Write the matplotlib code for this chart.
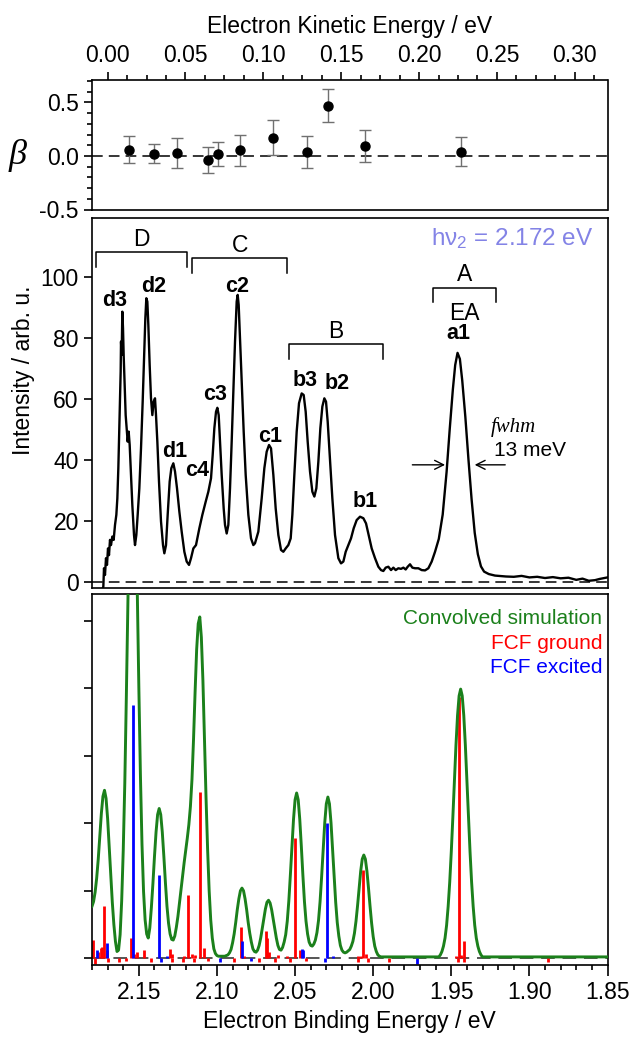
import numpy as np
import matplotlib
matplotlib.use('Agg')
import matplotlib.pyplot as plt
from matplotlib.ticker import MultipleLocator, NullFormatter

plt.rcParams['font.family'] = ['Liberation Sans', 'DejaVu Sans']
plt.rcParams['mathtext.fontset'] = 'custom'
plt.rcParams['mathtext.rm'] = 'Liberation Sans'

# ---- anisotropy parameter beta vs eKE ----
beta_eke = [0.0135, 0.0298, 0.0446, 0.0648, 0.0712, 0.0850, 0.1060, 0.1280, 0.1417, 0.1650, 0.2270]
beta_val = [0.06, 0.02, 0.03, -0.04, 0.02, 0.055, 0.17, 0.04, 0.47, 0.09, 0.04]
beta_err = [0.13, 0.09, 0.14, 0.12, 0.11, 0.145, 0.165, 0.15, 0.155, 0.15, 0.135]

# ---- measured photoelectron spectrum (eBE / eV, intensity) ----
spec_ebe = [2.1730, 2.17274, 2.17232, 2.17168, 2.17104, 2.17040, 2.16976, 2.16912, 2.16848, 2.16784,
            2.16698, 2.16613, 2.16527, 2.16442, 2.16378, 2.16314, 2.16250, 2.16207, 2.16165, 2.16143,
            2.16101, 2.16058, 2.16015, 2.15973, 2.15930, 2.15887, 2.15845, 2.15781, 2.15717, 2.15653,
            2.15588, 2.15524, 2.15418, 2.15311, 2.15247, 2.15162, 2.15076, 2.14970, 2.14863, 2.14756,
            2.14671, 2.14586, 2.14522, 2.14458, 2.14394, 2.14308, 2.14223, 2.14137, 2.14052, 2.13967,
            2.13903, 2.13817, 2.13711, 2.13582, 2.13454, 2.13369, 2.13262, 2.13156, 2.13028, 2.12921,
            2.12793, 2.12686, 2.12558, 2.12409, 2.12259, 2.12088, 2.11939, 2.11790, 2.11662, 2.11512,
            2.11342, 2.11128, 2.10936, 2.10723, 2.10552, 2.10381, 2.10275, 2.10168, 2.10061, 2.09976,
            2.09890, 2.09805, 2.09698, 2.09570, 2.09485, 2.09378, 2.09272, 2.09165, 2.09058, 2.08952,
            2.08845, 2.08738, 2.08674, 2.08610, 2.08525, 2.08418, 2.08290, 2.08162, 2.07991, 2.07821,
            2.07671, 2.07565, 2.07351, 2.07138, 2.06967, 2.06818, 2.06668, 2.06540, 2.06391, 2.06241,
            2.06071, 2.05900, 2.05751, 2.05601, 2.05431, 2.05281, 2.05175, 2.05047, 2.04897, 2.04748,
            2.04577, 2.04449, 2.04321, 2.04193, 2.04044, 2.03894, 2.03766, 2.03638, 2.03510, 2.03382,
            2.03254, 2.03126, 2.03019, 2.02913, 2.02785, 2.02614, 2.02443, 2.02230, 2.02059, 2.01909,
            2.01760, 2.01590, 2.01419, 2.01248, 2.01056, 2.00843, 2.00629, 2.00458, 2.00266, 2.00096,
            1.99882, 1.99669, 1.99498, 1.99349, 1.99199, 1.99029, 1.98858, 1.98709, 1.98559, 1.98388,
            1.98218, 1.98068, 1.97919, 1.97791, 1.97641, 1.97492, 1.97321, 1.97108, 1.96894, 1.96681,
            1.96467, 1.96254, 1.96041, 1.9580, 1.9555, 1.9530, 1.9510, 1.9490, 1.9475, 1.9460,
            1.9445, 1.9430, 1.9410, 1.9390, 1.9370, 1.9350, 1.9330, 1.9310, 1.9290, 1.9260,
            1.9220, 1.9150, 1.9100, 1.9050, 1.9000, 1.8950, 1.8900, 1.8850, 1.8800, 1.8750,
            1.8700, 1.8660, 1.8620, 1.8580, 1.8550, 1.8520, 1.8500]
spec_int = [-2.0, -1.6, 4.4, 2.2, 7.7, 5.5, 10.9, 8.7, 13.7, 12.0,
            14.8, 13.7, 18.6, 21.9, 27.3, 37.2, 50.3, 59.0, 68.9, 78.7,
            74.3, 88.5, 83.1, 74.3, 67.8, 61.2, 54.6, 50.3, 45.9, 49.2,
            44.8, 37.2, 25.1, 15.3, 12.0, 15.3, 21.9, 30.6, 43.7, 59.0,
            73.2, 86.3, 92.9, 91.8, 84.2, 71.0, 60.1, 54.6, 59.0, 60.1,
            54.6, 45.9, 32.8, 19.7, 12.0, 9.3, 12.0, 21.9, 32.8, 37.2,
            38.8, 36.1, 30.6, 23.0, 16.4, 9.8, 6.6, 5.5, 7.7, 10.9,
            12.0, 17.5, 21.9, 26.2, 29.5, 33.9, 41.5, 50.3, 55.7, 57.0,
            54.6, 45.9, 35.0, 24.0, 18.6, 15.8, 18.6, 30.6, 45.9, 62.3,
            78.7, 91.8, 94.0, 90.7, 79.8, 65.6, 49.2, 35.0, 21.9, 14.2,
            12.0, 12.6, 16.4, 27.3, 37.2, 42.6, 44.8, 43.7, 35.0, 24.0,
            15.3, 10.4, 9.8, 10.9, 12.0, 14.2, 21.9, 35.0, 49.2, 58.5,
            61.7, 61.2, 55.7, 45.9, 36.1, 29.5, 27.9, 30.6, 39.3, 50.3,
            57.4, 60.1, 59.0, 52.5, 41.5, 27.3, 15.3, 7.7, 6.0, 6.6,
            9.8, 12.0, 14.2, 17.5, 20.2, 21.3, 20.8, 19.1, 14.8, 10.9,
            7.7, 4.9, 3.8, 3.5, 4.6, 4.9, 3.8, 4.6, 3.8, 4.4,
            4.2, 4.6, 4.0, 4.9, 5.7, 4.6, 4.4, 4.4, 3.8, 3.7,
            4.4, 6.6, 9.8, 14.0, 22.0, 36.0, 50.0, 63.0, 71.0, 75.0,
            73.0, 66.0, 54.0, 40.0, 27.0, 16.0, 9.0, 5.0, 3.3, 2.5,
            2.0, 1.7, 1.6, 1.9, 1.4, 1.6, 1.2, 1.5, 1.1, 1.3,
            0.6, 1.0, 0.3, 0.5, 0.9, 1.2, 1.4]

# ---- convolved simulation, sampled every 1 meV in the busy parts ----
sim_ebe = np.concatenate([np.round(2.180 - 0.001 * np.arange(191), 3),
                          [1.985, 1.975, 1.965, 1.959],
                          np.round(1.958 - 0.001 * np.arange(29), 3),
                          [1.925, 1.900, 1.875, 1.850]])
sim_val = [0.77, 0.84, 0.98, 1.19, 1.47, 1.81, 2.15, 2.40, 2.49, 2.37,
           2.07, 1.66, 1.23, 0.83, 0.50, 0.25, 0.10, 0.12, 0.35, 0.85,
           1.60, 2.60, 3.90, 5.30, 6.70, 7.60, 8.00, 7.66, 6.73, 5.42,
           4.00, 2.71, 1.69, 0.99, 0.57, 0.36, 0.30, 0.45, 0.75, 1.11,
           1.51, 1.87, 2.13, 2.22, 2.13, 1.87, 1.51, 1.12, 0.77, 0.52,
           0.36, 0.28, 0.27, 0.33, 0.46, 0.62, 0.82, 1.02, 1.22, 1.42,
           1.60, 1.78, 1.98, 2.25, 2.65, 3.25, 3.95, 4.58, 4.96, 5.06,
           4.76, 4.12, 3.25, 2.38, 1.62, 1.00, 0.57, 0.30, 0.14, 0.07,
           0.04, 0.03, 0.03, 0.03, 0.03, 0.03, 0.04, 0.05, 0.08, 0.13,
           0.23, 0.36, 0.53, 0.72, 0.88, 1.00, 1.04, 1.00, 0.88, 0.72,
           0.53, 0.37, 0.24, 0.14, 0.10, 0.09, 0.12, 0.19, 0.30, 0.44,
           0.59, 0.73, 0.83, 0.86, 0.82, 0.72, 0.58, 0.44, 0.30, 0.19,
           0.13, 0.12, 0.16, 0.24, 0.35, 0.55, 0.85, 1.24, 1.66, 2.06,
           2.35, 2.45, 2.35, 2.06, 1.66, 1.23, 0.84, 0.55, 0.36, 0.24,
           0.19, 0.18, 0.21, 0.27, 0.38, 0.56, 0.84, 1.21, 1.62, 2.01,
           2.29, 2.39, 2.29, 2.01, 1.62, 1.21, 0.83, 0.53, 0.33, 0.19,
           0.12, 0.09, 0.08, 0.09, 0.11, 0.13, 0.18, 0.25, 0.37, 0.55,
           0.78, 1.04, 1.29, 1.47, 1.53, 1.47, 1.29, 1.04, 0.77, 0.52,
           0.32, 0.18, 0.10, 0.05, 0.03, 0.02, 0.02, 0.02, 0.02, 0.02,
           0.02,
           0.02, 0.02, 0.02, 0.02,
           0.02, 0.05, 0.10, 0.18, 0.30, 0.49, 0.77, 1.13, 1.58, 2.09,
           2.64, 3.16, 3.60, 3.89, 3.99, 3.89, 3.60, 3.16, 2.64, 2.09,
           1.58, 1.13, 0.77, 0.49, 0.30, 0.18, 0.10, 0.05, 0.02,
           0.02, 0.02, 0.02, 0.02]

# ---- Franck-Condon sticks ----
fcf_gnd_ebe = [2.1796, 2.1760, 2.1740, 2.1733, 2.1723, 2.1705, 2.1552, 2.1530, 2.1513, 2.1465,
               2.1300, 2.1285, 2.1210, 2.1183, 2.1157, 2.1140, 2.1109, 2.1085, 2.0846, 2.0825,
               2.0688, 2.0678, 2.0667, 2.0607, 2.0554, 2.0500, 2.0468, 2.0095, 2.0078, 2.0063,
               2.0046, 1.9472, 1.9448, 1.9438, 1.9418,
               2.1780, 2.1700, 2.1630, 2.1580, 2.1420, 2.1290, 2.1220, 2.1150, 2.1060, 2.0890,
               2.0730, 2.0630, 2.0530, 2.0430, 2.0100, 2.0030, 1.9900, 1.9460, 1.9420, 1.8880]
fcf_gnd_val = [0.27, 0.10, 0.15, 0.17, 0.77, 0.12, 0.30, 0.07, 0.10, 0.12,
               0.13, 0.06, 0.03, 0.94, 0.07, 0.05, 2.46, 0.15, 0.46, 0.04,
               0.40, 0.30, 0.10, 0.05, 0.03, 1.78, 0.12, 0.03, 0.04, 1.31,
               0.07, 0.03, 3.88, 0.05, 0.25,
               -0.08, -0.06, -0.05, -0.04, -0.05, -0.05, -0.06, -0.06, -0.04, -0.05,
               -0.06, -0.05, -0.06, -0.04, -0.05, -0.05, -0.05, -0.06, -0.06, -0.05]
fcf_exc_ebe = [2.1770, 2.1706, 2.1539, 2.1371, 2.1320, 2.0842, 2.0458, 2.0447, 2.0298, 2.0255,
               2.1360, 2.0980, 2.0780, 2.0310, 1.9720]
fcf_exc_val = [0.12, 0.22, 3.75, 1.23, 0.03, 0.25, 0.13, 0.12, 2.00, 0.03,
               -0.05, -0.06, -0.04, -0.05, -0.08]

# ---- labels on the measured spectrum ----
peak_names = ['d3', 'd2', 'd1', 'c4', 'c3', 'c2', 'c1', 'b3', 'b2', 'b1', 'a1']
peak_ebe = [2.1653, 2.1408, 2.1273, 2.1130, 2.1013, 2.0874, 2.0660, 2.0436, 2.0233, 2.0052, 1.9455]
peak_lab_y = [92.0, 96.7, 42.6, 36.6, 61.2, 96.7, 47.5, 66.1, 65.0, 26.2, 81.5]

band_names = ['D', 'C', 'B', 'A']
band_left = [2.1776, 2.1158, 2.0537, 1.9615]
band_right = [2.1190, 2.0550, 1.9939, 1.9216]
band_top = [108.0, 106.0, 77.8, 96.4]
band_leg = 4.8

LW_SPINE = 1.2
FS = 16.5


def style_axes(ax):
    for s in ax.spines.values():
        s.set_linewidth(LW_SPINE)
    ax.tick_params(which='both', direction='out', width=LW_SPINE, labelsize=FS)
    ax.tick_params(which='major', length=6)
    ax.tick_params(which='minor', length=3.5)


fig = plt.figure(figsize=(6.29, 10.39), dpi=100)
L, W = 92 / 629, 515.5 / 629
ax_b = fig.add_axes([L, (1039 - 209.5) / 1039, W, 129.5 / 1039])
ax_m = fig.add_axes([L, (1039 - 588) / 1039, W, 370 / 1039])
ax_s = fig.add_axes([L, (1039 - 965) / 1039, W, 371 / 1039])

# --- beta panel ---
style_axes(ax_b)
ax_b.errorbar(beta_eke, beta_val, yerr=beta_err, fmt='o', color='black', ms=6.5,
              ecolor='#707070', elinewidth=1.0, capsize=4, capthick=1.0, zorder=3)
ax_b.axhline(0, color='black', lw=1.1, dashes=(7, 4))
ax_b.set_xlim(-0.0100, 0.3210)
ax_b.set_ylim(-0.5, 0.71)
ax_b.xaxis.set_major_locator(MultipleLocator(0.05))
ax_b.xaxis.set_minor_locator(MultipleLocator(0.0125))
ax_b.xaxis.set_major_formatter(lambda v, p: f'{v:.2f}')
ax_b.yaxis.set_major_locator(MultipleLocator(0.5))
ax_b.yaxis.set_minor_locator(MultipleLocator(0.1))
ax_b.yaxis.set_major_formatter(lambda v, p: f'{v:.1f}')
ax_b.tick_params(axis='x', which='both', top=True, bottom=False, labeltop=True, labelbottom=False)
ax_b.xaxis.set_label_position('top')
ax_b.set_xlabel('Electron Kinetic Energy / eV', fontsize=FS, labelpad=8)
fig.text(18 / 629, 1 - 156 / 1039, 'β', fontsize=26, family='Liberation Serif',
         style='italic', ha='center', va='center')

# --- measured spectrum ---
style_axes(ax_m)
ax_m.plot(spec_ebe, spec_int, color='black', lw=1.7)
ax_m.axhline(0, color='black', lw=1.1, dashes=(7, 4))
ax_m.set_xlim(2.18, 1.85)
ax_m.set_ylim(-2.07, 119.2)
ax_m.yaxis.set_major_locator(MultipleLocator(20))
ax_m.tick_params(axis='x', which='both', bottom=False, labelbottom=False)
fig.text(24 / 629, 1 - 370 / 1039, 'Intensity / arb. u.', rotation=90, fontsize=FS,
         ha='center', va='center')

for name, x, y in zip(peak_names, peak_ebe, peak_lab_y):
    ax_m.text(x, y, name, fontsize=15.5, fontweight='bold', ha='center', va='center')

for name, x1, x2, yt in zip(band_names, band_left, band_right, band_top):
    ax_m.plot([x1, x1, x2, x2], [yt - band_leg, yt, yt, yt - band_leg], color='black', lw=1.1)
    ax_m.text((x1 + x2) / 2, yt + 4.2, name, fontsize=FS, ha='center', va='center')
ax_m.text(1.9415, 88.0, 'EA', fontsize=FS, ha='center', va='center')

ax_m.text(1.8590, 112.5, r'h$\mathregular{\nu_2}$ = 2.172 eV', fontsize=17.5,
          color='#8383e6', ha='right', va='center')

# fwhm arrows of the EA peak
ax_m.annotate('', xy=(1.9522, 38.3), xytext=(1.9767, 38.3),
              arrowprops=dict(arrowstyle='->', lw=1.0, color='black', mutation_scale=16))
ax_m.annotate('', xy=(1.9368, 38.3), xytext=(1.9137, 38.3),
              arrowprops=dict(arrowstyle='->', lw=1.0, color='black', mutation_scale=16))
ax_m.text(1.9246, 50.7, 'fwhm', fontsize=15, family='Liberation Serif', style='italic',
          ha='left', va='center')
ax_m.text(1.9226, 42.9, '13 meV', fontsize=15, ha='left', va='center')

# --- simulation ---
style_axes(ax_s)
ax_s.axhline(0, color='#555555', lw=1.4, dashes=(7, 4), zorder=1)
ax_s.vlines(fcf_gnd_ebe, 0, fcf_gnd_val, color='#ff0000', lw=2.0, zorder=2)
ax_s.vlines(fcf_exc_ebe, 0, fcf_exc_val, color='#0000ff', lw=2.0, zorder=2)
ax_s.plot(sim_ebe, sim_val, color='#1b801b', lw=2.1, zorder=3)
ax_s.set_xlim(2.18, 1.85)
ax_s.set_ylim(-0.1, 5.40)
ax_s.xaxis.set_major_locator(MultipleLocator(0.05))
ax_s.xaxis.set_minor_locator(MultipleLocator(0.01))
ax_s.xaxis.set_major_formatter(lambda v, p: f'{v:.2f}')
ax_s.yaxis.set_major_locator(MultipleLocator(1))
ax_s.yaxis.set_major_formatter(NullFormatter())
ax_s.tick_params(axis='x', which='major', length=8)
ax_s.set_xlabel('Electron Binding Energy / eV', fontsize=FS, labelpad=4)

ax_s.text(0.99, 0.935, 'Convolved simulation', transform=ax_s.transAxes, color='#1b801b',
          fontsize=15, ha='right', va='center')
ax_s.text(0.99, 0.866, 'FCF ground', transform=ax_s.transAxes, color='#ff0000',
          fontsize=15, ha='right', va='center')
ax_s.text(0.99, 0.801, 'FCF excited', transform=ax_s.transAxes, color='#0000ff',
          fontsize=15, ha='right', va='center')

fig.savefig('out.png', dpi=100, facecolor='white')
